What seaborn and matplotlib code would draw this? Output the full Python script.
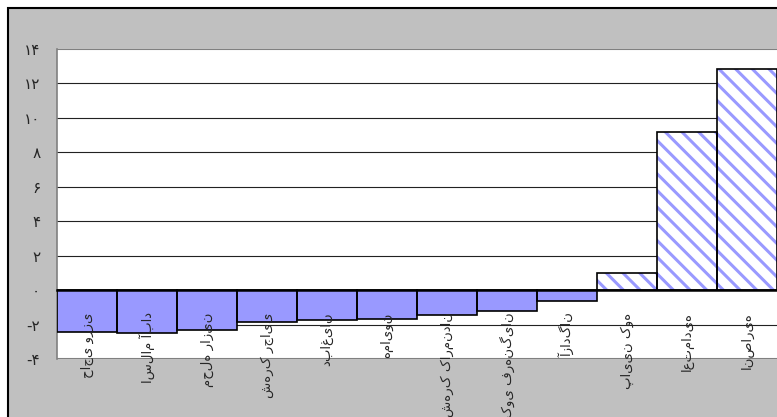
import matplotlib
matplotlib.use('Agg')
import matplotlib.pyplot as plt
import seaborn as sns
import pandas as pd
from matplotlib.patches import Rectangle

categories = ["حاجی ورزی", "اسلام آباد", "محله رازین", "شهرک رجایی", "دباغیان",
              "همایون", "شهرک کارمندان", "کوی فرهنگیان", "آزادگان", "پایین کوه",
              "اعتمادیه", "انصاریه"]
values = [-2.45, -2.47, -2.33, -1.87, -1.75, -1.68, -1.47, -1.23, -0.64, 0.97, 9.2, 12.82]
yticks = [-4, -2, 0, 2, 4, 6, 8, 10, 12, 14]
ytick_labels = ['-۴', '-۲', '۰', '۲', '۴', '۶', '۸', '۱۰', '۱۲', '۱۴']

sns.set_style('white')
plt.rcParams['font.family'] = ['DejaVu Sans']
plt.rcParams['hatch.linewidth'] = 2.2

df = pd.DataFrame({'cat': categories, 'val': values})
W, H = 777, 417
fig = plt.figure(figsize=(W / 100, H / 100), dpi=100, facecolor='white')
fig.patches.append(Rectangle((8 / W, -0.05), 1.2, 1.05 - 8 / H, transform=fig.transFigure,
                             facecolor='#c0c0c0', edgecolor='black', linewidth=1.5, zorder=-10))
ax = fig.add_axes([57 / W, 1 - 359 / H, 1 - 57 / W, (359 - 49) / H])
ax.set_facecolor('white')

blue = '#9999ff'
sns.barplot(data=df, x='cat', y='val', order=categories, color=blue, width=1.0,
            saturation=1, ax=ax, linewidth=0, zorder=2)
for p, v in zip(ax.patches, values):
    if v > 0:
        p.set_facecolor('white')
        p.set_hatch('\\\\')
        p.set_edgecolor(blue)
        p.set_linewidth(0)
sns.barplot(data=df, x='cat', y='val', order=categories, fill=False, width=1.0,
            ax=ax, edgecolor='black', linewidth=1.2, zorder=3)

ax.set_ylim(-4, 14)
ax.set_xlim(-0.5, 11.5)
ax.set_yticks(yticks)
ax.set_yticklabels(ytick_labels, fontsize=11)
for y in yticks:
    if y in (-4, 14):
        ax.axhline(y, color='#808080', lw=1.5, zorder=1)
    elif y != 0:
        ax.axhline(y, color='#222222', lw=0.8, zorder=1)
ax.set_xlabel('')
ax.set_ylabel('')
for s in ['top', 'right']:
    ax.spines[s].set_visible(False)
ax.spines['left'].set_color('#808080')
ax.spines['left'].set_linewidth(1.2)
ax.spines['bottom'].set_position(('data', 0))
ax.spines['bottom'].set_color('black')
ax.spines['bottom'].set_linewidth(1.8)
ax.spines['bottom'].set_zorder(5)
ax.xaxis.set_zorder(6)
ax.set_xticks(range(len(categories)))
ax.set_xticklabels(categories, rotation=90, fontsize=9.5, va='top', ha='center')
ax.tick_params(axis='x', which='major', length=0, pad=16)
ax.set_xticks([i + 0.5 for i in range(len(categories) - 1)], minor=True)
ax.tick_params(axis='x', which='minor', length=5, width=1.2, color='black', direction='out')
ax.tick_params(axis='y', length=5, width=1, color='#808080', direction='out', pad=7)

fig.savefig('out.png', dpi=100, facecolor='white')
